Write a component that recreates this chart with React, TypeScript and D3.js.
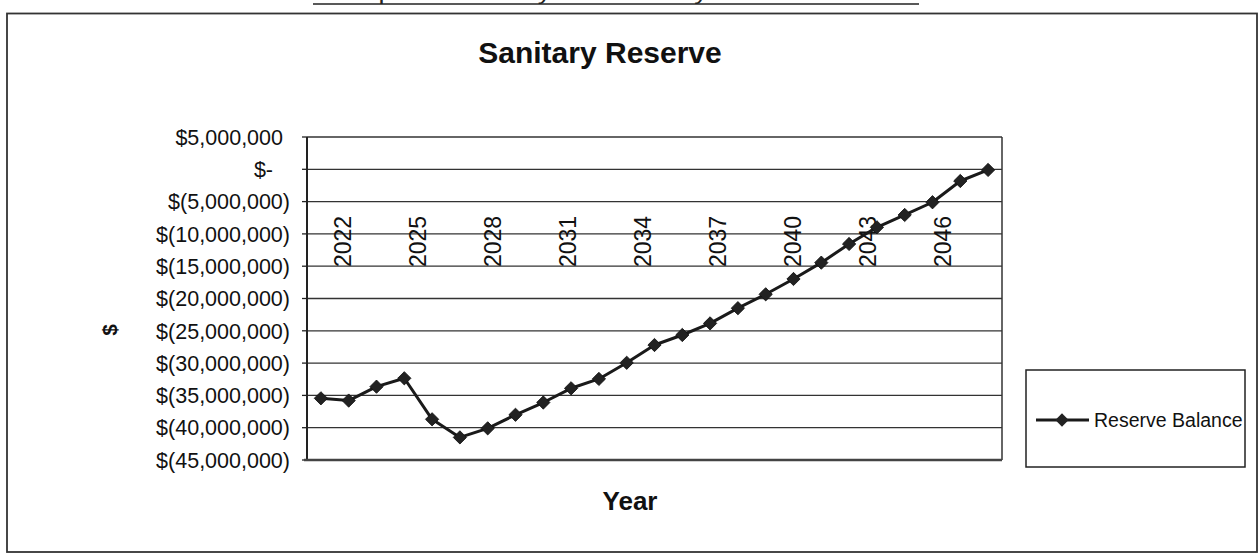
import React from "react";
import * as d3 from "d3";

const years: number[] = d3.range(2022, 2047);
const reserveBalance: number[] = [
  -35.45e6, -35.8e6, -33.65e6, -32.35e6, -38.7e6, -41.5e6, -40.1e6, -38.0e6,
  -36.1e6, -33.9e6, -32.45e6, -29.95e6, -27.2e6, -25.65e6, -23.85e6, -21.5e6,
  -19.35e6, -16.98e6, -14.45e6, -11.56e6, -8.98e6, -7.07e6, -5.1e6, -1.81e6, -0.1e6,
];
const yTicks: number[] = [5e6, 0, -5e6, -10e6, -15e6, -20e6, -25e6, -30e6, -35e6, -40e6, -45e6];
const xLabelYears: number[] = [2022, 2025, 2028, 2031, 2034, 2037, 2040, 2043, 2046];
const seriesName = "Reserve Balance";
const chartTitle = "Sanitary Reserve";
const headerText = "Anticipated Sanitary Sewer Utility Reserve Balance";

const FONT = "'Liberation Sans', Arial, Helvetica, sans-serif";

export default function App() {
  const W = 1259, H = 556;
  const plot = { left: 307, right: 1002, top: 137, bottom: 460 };
  const x = d3.scaleBand<number>().domain(years).range([plot.left, plot.right]);
  const cx = (yr: number) => (x(yr) as number) + x.bandwidth() / 2;
  const y = d3.scaleLinear().domain([-45e6, 5e6]).range([plot.bottom, plot.top]);
  const xLabel = d3.scaleLinear().domain([2022, 2046]).range([343, 943]);
  const fmt = d3.format(",");
  const tickText = (v: number) => (v === 0 ? "$-" : v < 0 ? `$(${fmt(-v)})` : `$${fmt(v)}`);
  const line = d3
    .line<number>()
    .x((_, i) => cx(years[i]))
    .y((d) => y(d));
  const diamond = d3.symbol().type(d3.symbolSquare).size(88)();
  const pts = reserveBalance.map((v, i) => ({ yr: years[i], v }));

  return (
    <svg
      width={W}
      height={H}
      style={{ position: "absolute", left: 0, top: 0, background: "#fff" }}
      fontFamily={FONT}
    >
      <rect x={0} y={0} width={W} height={H} fill="#fff" />
      {/* clipped header above chart */}
      <text x={313} y={-1} fontSize={22} textLength={606} lengthAdjust="spacingAndGlyphs" fill="#222">
        {headerText}
      </text>
      <line x1={313} x2={919} y1={4} y2={4} stroke="#222" strokeWidth={1.5} />
      {/* chart area border */}
      <rect x={7} y={13.5} width={1250} height={538.5} fill="none" stroke="#333" strokeWidth={1.8} />
      {/* title */}
      <text x={600} y={63} textAnchor="middle" fontSize={30} fontWeight="bold" fill="#111">
        {chartTitle}
      </text>
      {/* gridlines */}
      {yTicks.map((t) => (
        <g key={t}>
          <line x1={plot.left} x2={plot.right} y1={y(t)} y2={y(t)} stroke="#333" strokeWidth={1.3} />
          <line x1={plot.left - 5} x2={plot.left} y1={y(t)} y2={y(t)} stroke="#222" strokeWidth={1.3} />
          <text
            x={t < 0 ? 290 : t === 0 ? 273 : 283}
            y={y(t)}
            dy="0.36em"
            textAnchor="end"
            fontSize={21.5}
            fill="#111"
          >
            {tickText(t)}
          </text>
        </g>
      ))}
      {/* plot frame */}
      <line x1={plot.right} x2={plot.right} y1={plot.top} y2={plot.bottom} stroke="#333" strokeWidth={1.5} />
      <line x1={plot.left} x2={plot.left} y1={plot.top} y2={plot.bottom} stroke="#222" strokeWidth={2} />
      <line x1={plot.left - 3} x2={plot.right} y1={plot.bottom} y2={plot.bottom} stroke="#444" strokeWidth={2.5} />
      {/* x labels (rotated) */}
      {xLabelYears.map((yr) => (
        <text
          key={yr}
          transform={`translate(${xLabel(yr) + 8},267) rotate(-90)`}
          fontSize={23}
          fill="#111"
        >
          {yr}
        </text>
      ))}
      {/* series */}
      <path d={line(reserveBalance) || ""} fill="none" stroke="#1a1a1a" strokeWidth={3} strokeLinejoin="round" />
      {pts.map((p) => (
        <path
          key={p.yr}
          d={diamond || ""}
          transform={`translate(${cx(p.yr)},${y(p.v)}) rotate(45)`}
          fill="#222"
          stroke="#111"
          strokeWidth={0.8}
        />
      ))}
      {/* axis titles */}
      <text transform="translate(117,330) rotate(-90)" textAnchor="middle" fontSize={21} fontWeight="bold" fill="#111">
        $
      </text>
      <text x={630} y={510} textAnchor="middle" fontSize={26} fontWeight="bold" fill="#111">
        Year
      </text>
      {/* legend */}
      <rect x={1026} y={370} width={219} height={97} fill="#fff" stroke="#222" strokeWidth={1.5} />
      <line x1={1036} x2={1089} y1={420} y2={420} stroke="#1a1a1a" strokeWidth={3} />
      <path d={diamond || ""} transform="translate(1062,420) rotate(45)" fill="#222" />
      <text x={1094} y={420} dy="0.36em" fontSize={19.5} fill="#111">
        {seriesName}
      </text>
    </svg>
  );
}
